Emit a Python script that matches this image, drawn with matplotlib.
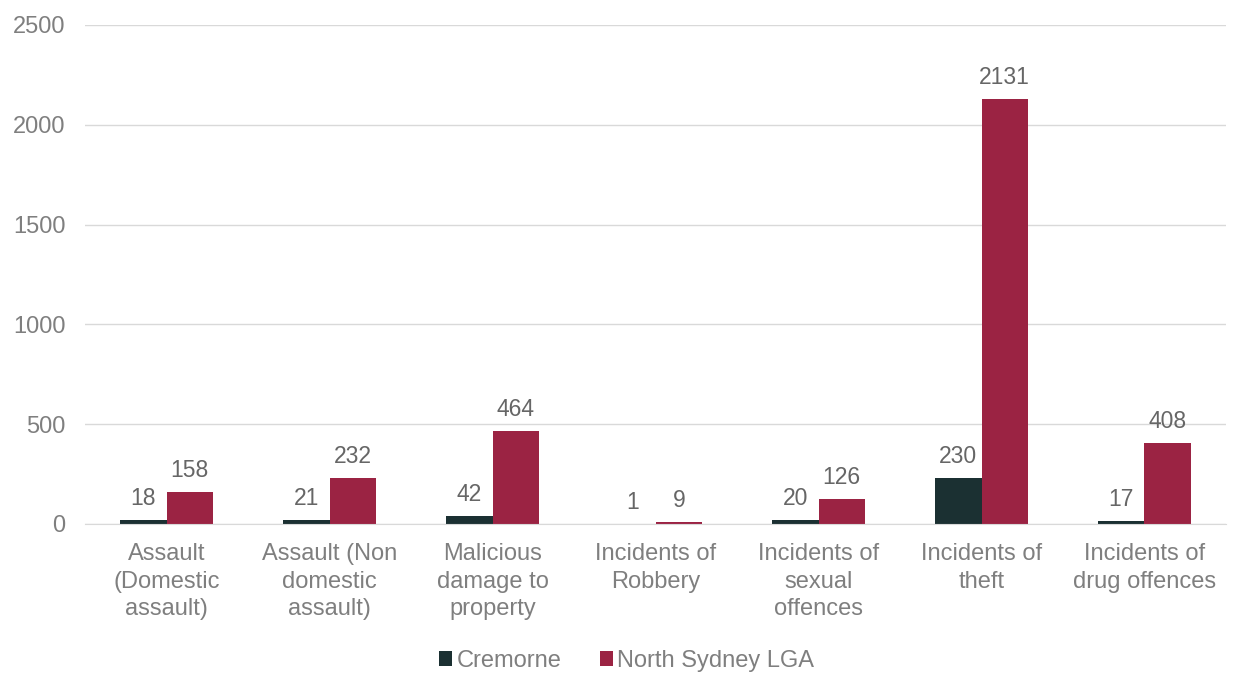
import matplotlib.pyplot as plt
import numpy as np

plt.rcParams['font.family'] = ['Liberation Sans', 'DejaVu Sans']

categories = ['Assault\n(Domestic\nassault)', 'Assault (Non\ndomestic\nassault)', 'Malicious\ndamage to\nproperty',
              'Incidents of\nRobbery', 'Incidents of\nsexual\noffences', 'Incidents of\ntheft', 'Incidents of\ndrug offences']
cremorne = [18, 21, 42, 1, 20, 230, 17]
north_sydney = [158, 232, 464, 9, 126, 2131, 408]
series_names = ['Cremorne', 'North Sydney LGA']
colors = ['#1B3032', '#9B2343']

fig = plt.figure(figsize=(12.34, 6.73), dpi=100)
ax = fig.add_axes([0.069, 0.2214, 0.9245, 0.7415])

x = np.arange(len(categories))
w = 0.285
b1 = ax.bar(x - w / 2, cremorne, w, color=colors[0], label=series_names[0])
b2 = ax.bar(x + w / 2, north_sydney, w, color=colors[1], label=series_names[1])

for bars, vals in [(b1, cremorne), (b2, north_sydney)]:
    for rect, v in zip(bars, vals):
        ax.text(rect.get_x() + rect.get_width() / 2, v + 50, str(v),
                ha='center', va='bottom', fontsize=16.5, color='#666666')

ax.set_ylim(0, 2500)
ax.set_xlim(-0.5, len(categories) - 0.5)
ax.set_yticks(range(0, 2501, 500))
ax.grid(axis='y', color='#D9D9D9', linewidth=1)
ax.set_axisbelow(True)
for s in ['top', 'right', 'left']:
    ax.spines[s].set_visible(False)
ax.spines['bottom'].set_color('#D9D9D9')
ax.tick_params(axis='y', length=0, labelsize=17, labelcolor='#7F7F7F', pad=14)
ax.tick_params(axis='x', length=0, labelsize=17, labelcolor='#7F7F7F', pad=14)
ax.set_xticks(x)
ax.set_xticklabels(categories, linespacing=1.3)

leg = fig.legend(loc='lower center', bbox_to_anchor=(0.508, -0.03), ncol=2, frameon=False,
                 fontsize=17, handlelength=0.55, handleheight=0.55, handletextpad=0.2, columnspacing=1.6)
for t in leg.get_texts():
    t.set_color('#7F7F7F')

fig.savefig('out.png', dpi=100)
